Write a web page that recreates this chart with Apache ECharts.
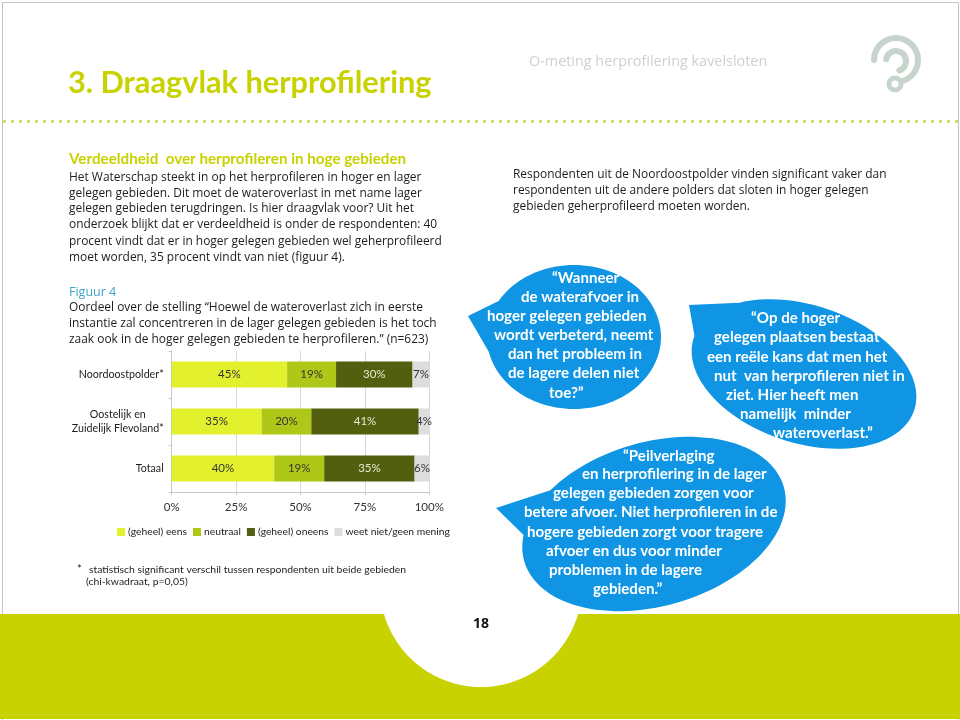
<!DOCTYPE html>
<html><head><meta charset="utf-8">
<style>html,body{margin:0;padding:0;background:#fff}#c{width:960px;height:720px}</style>
<script src="https://cdn.jsdelivr.net/npm/echarts@6/dist/echarts.min.js"></script>
</head><body><div id="c"></div>
<script>
const categories = ['Noordoostpolder*', 'Oostelijk en\nZuidelijk Flevoland*', 'Totaal'];
const seriesNames = ['(geheel) eens', 'neutraal', '(geheel) oneens', 'weet niet/geen mening'];
const eens = [44.8, 34.9, 39.8];
const neutraal = [19, 19.3, 19.4];
const oneens = [29.7, 41.7, 35.1];
const weetNiet = [6.5, 4.1, 5.7];
const eensLabels = ['45%', '35%', '40%'];
const neutraalLabels = ['19%', '20%', '19%'];
const oneensLabels = ['30%', '41%', '35%'];
const weetNietLabels = ['7%', '4%', '6%'];
const xTicks = [0, 25, 50, 75, 100];

const FONT = '"Open Sans"', LATO = 'Lato';
const colors = ['#E2F02E', '#AFC817', '#525F0E', '#DDDDDD'];
const labelColors = ['#333', '#333', '#E8E8D0', '#333'];
const values = [eens, neutraal, oneens, weetNiet];
const labels = [eensLabels, neutraalLabels, oneensLabels, weetNietLabels];

function txt(text, x, y, size, color, weight, family) {
  return {type:'text', silent:true, z:10, x:x, y:y,
    style:{text:text, fontFamily:family||FONT, fontSize:size, fill:color, fontWeight:weight||'normal',
      verticalAlign:'middle', align:'left'}};
}
function bubble(cx,cy,rx,ry,rotDeg,tip,a1,a2,fill){
  const r=rotDeg*Math.PI/180, pts=[];
  for(let a=a1;a<=a2;a+=3){
    const t=a*Math.PI/180, px=rx*Math.cos(t), py=ry*Math.sin(t);
    pts.push([cx+px*Math.cos(r)-py*Math.sin(r), cy+px*Math.sin(r)+py*Math.cos(r)]);
  }
  pts.push(tip);
  return {type:'polygon',silent:true,z:5,shape:{points:pts},style:{fill:fill}};
}
function band(fill){
  const cx=481,cy=586,r=101,top=614,bot=719,pts=[[0,top]];
  const a0=Math.asin((top-cy)/r);
  for(let i=0;i<=60;i++){
    const a=Math.PI-a0-(Math.PI-2*a0)*i/60;
    pts.push([cx+r*Math.cos(a),cy+r*Math.sin(a)]);
  }
  pts.push([960,top],[960,bot],[0,bot]);
  return {type:'polygon',silent:true,z:1,shape:{points:pts},style:{fill:fill}};
}
const dark = '#1d1d1b', lime = '#C8D200', bluehead = '#3FA5C8';
const body = [
 ['Het Waterschap steekt in op het herprofileren in hoger en lager',177],
 ['gelegen gebieden. Dit moet de wateroverlast in met name lager',193],
 ['gelegen gebieden terugdringen. Is hier draagvlak voor? Uit het',208],
 ['onderzoek blijkt dat er verdeeldheid is onder de respondenten: 40',224],
 ['procent vindt dat er in hoger gelegen gebieden wel geherprofileerd',241],
 ['moet worden, 35 procent vindt van niet (figuur 4).',257],
 ['Oordeel over de stelling “Hoewel de wateroverlast zich in eerste',307],
 ['instantie zal concentreren in de lager gelegen gebieden is het toch',323],
 ['zaak ook in de hoger gelegen gebieden te herprofileren.” (n=623)',339]
];
const right = [
 ['Respondenten uit de Noordoostpolder vinden significant vaker dan',175],
 ['respondenten uit de andere polders dat sloten in hoger gelegen',191],
 ['gebieden geherprofileerd moeten worden.',207]
];
const quotes = [
 ['“Wanneer',552,278],['de waterafvoer in',521,297],['hoger gelegen gebieden',487,316],
 ['wordt verbeterd, neemt',494,335],['dan het probleem in',508,354],['de lagere delen niet',508,373],['toe?”',549,393],
 ['“Op de hoger',751,318],['gelegen plaatsen bestaat',714,337],['een reële kans dat men het',707,357],
 ['nut  van herprofileren niet in',714,376],['ziet. Hier heeft men',726,395],['namelijk  minder',740,414],['wateroverlast.”',773,433],
 ['“Peilverlaging',623,456],['en herprofilering in de lager',582,474],['gelegen gebieden zorgen voor',553,493],
 ['betere afvoer. Niet herprofileren in de',524,512],['hogere gebieden zorgt voor tragere',527,532],
 ['afvoer en dus voor minder',546,551],['problemen in de lagere',549,570],['gebieden.”',593,589]
];
const blue = '#0F95E3', logo = '#C6D4CC';
const g = [];
g.push({type:'polyline',silent:true,shape:{points:[[2.5,720],[2.5,2.5],[958.5,2.5],[958.5,720]]},style:{stroke:'#c4c4c4',lineWidth:1,fill:null}});
g.push({type:'line',silent:true,shape:{x1:3,y1:121.5,x2:958,y2:121.5},style:{stroke:'#D0DC6E',lineWidth:3,lineDash:[3,5]}});
g.push(band(lime));
g.push(bubble(574,337,87,72,0,[468,316],210,530,blue));
g.push(bubble(804,374,116,69,18,[689,305],224,543,blue));
g.push(bubble(654,524,135,82,-16,[496,508],228,558,blue));
const ls={fill:null,stroke:logo,lineWidth:6,lineCap:'round'};
g.push({type:'arc',silent:true,shape:{cx:896,cy:60,r:22,startAngle:Math.PI,endAngle:70*Math.PI/180,clockwise:true},style:ls});
g.push({type:'arc',silent:true,shape:{cx:896,cy:61,r:10,startAngle:190*Math.PI/180,endAngle:70*Math.PI/180,clockwise:true},style:ls});
g.push({type:'circle',silent:true,shape:{cx:895,cy:84,r:6},style:{fill:'#fff',stroke:logo,lineWidth:5}});
g.push(txt('3. Draagvlak herprofilering',68,83,30.7,lime,'bold',LATO));
g.push(txt('O-meting herprofilering kavelsloten',529,62,14.4,'#CBD2CE'));
g.push(txt('Verdeeldheid  over herprofileren in hoge gebieden',69,159,15.2,lime,'bold',LATO));
g.push(txt('Figuur 4',69,292,12.5,bluehead));
body.concat(right).forEach((l,i)=>g.push(txt(l[0], i<body.length?69:513, i<body.length?l[1]+0.5:l[1], 11.95, dark)));
quotes.forEach(q=>g.push(txt(q[0],q[1],q[2],15.1,'#fff','bold',LATO)));
g.push(txt('*',77,569,11,dark,'normal',LATO));
g.push(txt('statistisch significant verschil tussen respondenten uit beide gebieden',89,570,10.4,dark,'normal',LATO));
g.push(txt('(chi-kwadraat, p=0,05)',86,582,10.4,dark,'normal',LATO));
g.push(txt('18',473,624,14,'#111','bold'));

const chart = echarts.init(document.getElementById('c'), null, {renderer:'canvas'});
chart.setOption({
  animation:false,
  backgroundColor:'#fff',
  color:colors,
  grid:{left:171.7,right:530.7,top:351,bottom:228,containLabel:false},
  legend:{left:112,top:522,itemWidth:8,itemHeight:8,itemGap:6,icon:'rect',
    textStyle:{fontFamily:LATO,fontSize:10.3,color:dark,padding:[0,0,0,-2]},data:seriesNames},
  xAxis:{type:'value',min:0,max:100,interval:25,
    axisLine:{show:true,lineStyle:{color:'#c8c8c8'}},
    axisTick:{show:true,length:3,lineStyle:{color:'#c8c8c8'}},
    splitLine:{show:true,lineStyle:{color:'#d8d8d8'}},
    axisLabel:{margin:9,fontFamily:LATO,fontSize:11.5,color:'#333',formatter:v=>xTicks.includes(v)?v+'%':''}},
  yAxis:{type:'category',data:categories,inverse:true,
    axisLine:{show:true,lineStyle:{color:'#c8c8c8'}},
    axisTick:{show:true,length:3,lineStyle:{color:'#c8c8c8'}},
    axisLabel:{margin:8,fontFamily:LATO,fontSize:10.7,color:dark,lineHeight:14,
      formatter:v=>v.indexOf('\n')<0?v:v.split('\n').map(s=>'{c|'+s+'}').join('\n'),
      rich:{c:{align:'center',fontFamily:LATO,fontSize:10.7,color:dark,lineHeight:14}}}},
  series:seriesNames.map((n,i)=>({
    name:n,type:'bar',stack:'t',barWidth:26,data:values[i],
    itemStyle:{color:colors[i]},
    label:{show:true,position:'inside',fontFamily:LATO,fontSize:11.5,color:labelColors[i],
      formatter:p=>labels[i][p.dataIndex]}
  })),
  graphic:{elements:g}
});
</script></body></html>
